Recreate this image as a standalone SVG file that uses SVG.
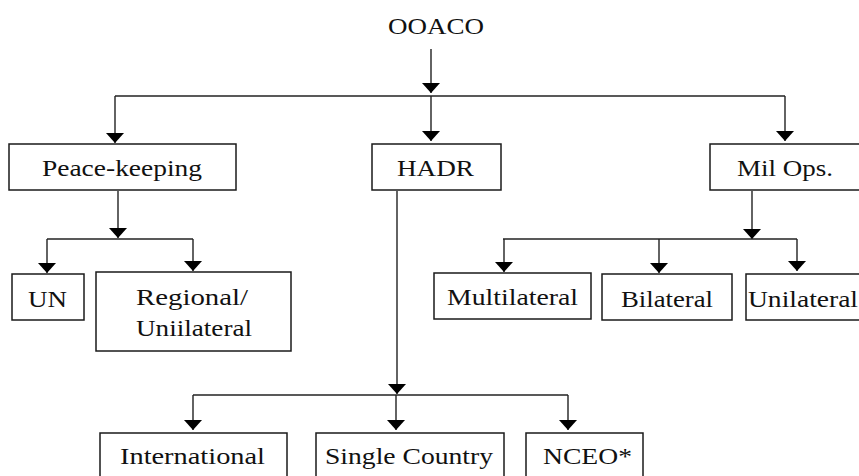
<svg xmlns="http://www.w3.org/2000/svg" width="859" height="476" viewBox="0 0 859 476">
<defs>
<style>
.box{fill:#fff;stroke:#1a1a1a;stroke-width:1.5}
.t{font-family:"Liberation Serif","Times New Roman",serif;font-size:24px;fill:#111;text-anchor:middle}
.c{fill:none;stroke:#222;stroke-width:1.4}
</style>
<marker id="ah" viewBox="0 0 10 18" refX="10" refY="9" markerWidth="10" markerHeight="18" markerUnits="userSpaceOnUse" orient="auto">
<path d="M0,0 L10,9 L0,18 Z" fill="#000"/>
</marker>
</defs>
<rect width="859" height="476" fill="#fff"/>
<g id="connectors">
<path class="c" d="M431,49 V93" marker-end="url(#ah)"/>
<path class="c" d="M115,96 H785"/>
<path class="c" d="M115,96 V143" marker-end="url(#ah)"/>
<path class="c" d="M431,96 V141" marker-end="url(#ah)"/>
<path class="c" d="M785,96 V141" marker-end="url(#ah)"/>
<path class="c" d="M118,191 V238" marker-end="url(#ah)"/>
<path class="c" d="M47,239 H193"/>
<path class="c" d="M47,239 V273" marker-end="url(#ah)"/>
<path class="c" d="M193,239 V271" marker-end="url(#ah)"/>
<path class="c" d="M397,191 V394" marker-end="url(#ah)"/>
<path class="c" d="M193,395 H568"/>
<path class="c" d="M193,395 V430" marker-end="url(#ah)"/>
<path class="c" d="M396,395 V430" marker-end="url(#ah)"/>
<path class="c" d="M568,395 V430" marker-end="url(#ah)"/>
<path class="c" d="M752,191 V239" marker-end="url(#ah)"/>
<path class="c" d="M503,239 H797"/>
<path class="c" d="M504,239 V272" marker-end="url(#ah)"/>
<path class="c" d="M659,239 V273" marker-end="url(#ah)"/>
<path class="c" d="M797,239 V271" marker-end="url(#ah)"/>
</g>
<g id="ooaco"><text class="t" x="436" y="34" textLength="96" lengthAdjust="spacingAndGlyphs">OOACO</text></g>
<g id="peacekeeping"><rect class="box" x="9" y="144" width="227" height="46"/><text class="t" x="122" y="176" textLength="160" lengthAdjust="spacingAndGlyphs">Peace-keeping</text></g>
<g id="hadr"><rect class="box" x="372" y="144" width="129" height="46"/><text class="t" x="435.5" y="176" textLength="77" lengthAdjust="spacingAndGlyphs">HADR</text></g>
<g id="milops"><rect class="box" x="710" y="144" width="155" height="46"/><text class="t" x="785" y="176" textLength="96" lengthAdjust="spacingAndGlyphs">Mil Ops.</text></g>
<g id="un"><rect class="box" x="12" y="274" width="72" height="46"/><text class="t" x="47.5" y="307" textLength="39" lengthAdjust="spacingAndGlyphs">UN</text></g>
<g id="regional"><rect class="box" x="96" y="272" width="195" height="79"/><text class="t" x="192" y="305" textLength="112" lengthAdjust="spacingAndGlyphs">Regional/</text><text class="t" x="194" y="336" textLength="116" lengthAdjust="spacingAndGlyphs">Uniilateral</text></g>
<g id="multilateral"><rect class="box" x="434" y="273" width="157" height="46"/><text class="t" x="512.5" y="305" textLength="131" lengthAdjust="spacingAndGlyphs">Multilateral</text></g>
<g id="bilateral"><rect class="box" x="602" y="274" width="130" height="46"/><text class="t" x="667" y="307" textLength="92" lengthAdjust="spacingAndGlyphs">Bilateral</text></g>
<g id="unilateral"><rect class="box" x="746" y="274" width="120" height="46"/><text class="t" x="803" y="307" textLength="110" lengthAdjust="spacingAndGlyphs">Unilateral</text></g>
<g id="international"><rect class="box" x="100" y="433" width="187" height="60"/><text class="t" x="192.5" y="464" textLength="145" lengthAdjust="spacingAndGlyphs">International</text></g>
<g id="singlecountry"><rect class="box" x="316" y="433" width="188" height="60"/><text class="t" x="409" y="464" textLength="168" lengthAdjust="spacingAndGlyphs">Single Country</text></g>
<g id="nceo"><rect class="box" x="526" y="433" width="117" height="60"/><text class="t" x="587.5" y="464" textLength="89" lengthAdjust="spacingAndGlyphs">NCEO*</text></g>
</svg>
